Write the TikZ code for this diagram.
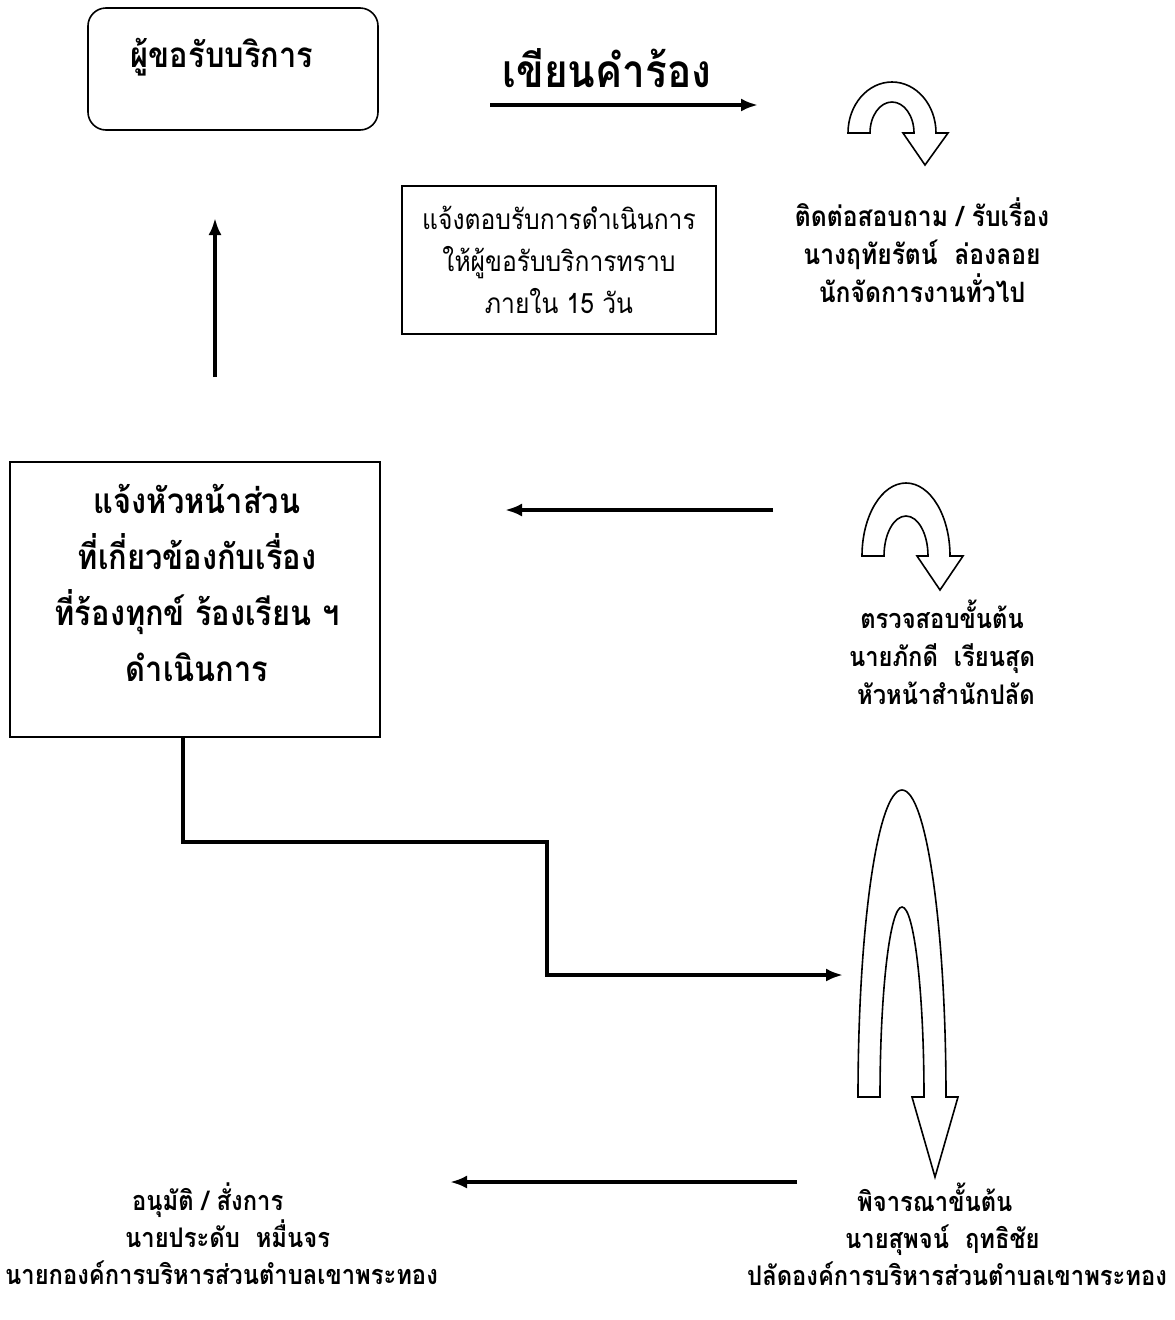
\documentclass[tikz,border=0pt]{standalone}
\usepackage{fontspec}
\newfontfamily\thaifont[Script=Thai,FakeStretch=0.88]{Loma}
\usetikzlibrary{arrows.meta,positioning}

\begin{document}
\begin{tikzpicture}[x=1pt,y=-1pt,>={Latex[length=17pt,width=13pt]},line join=miter,
	box/.style={draw,line width=1.6pt,inner sep=0pt},
	bigtext/.style={font=\thaifont\bfseries\fontsize{35}{56}\selectfont,align=center,inner sep=0pt},
	midtext/.style={font=\thaifont\bfseries\fontsize{28}{38}\selectfont,align=center,inner sep=0pt},
	lowtext/.style={font=\thaifont\bfseries\fontsize{27}{37}\selectfont,align=left,anchor=west,inner sep=0pt},
	flow/.style={->,line width=3.5pt},
	uturn/.style={draw,line width=1.6pt}]
	\useasboundingbox (0,0) rectangle (1175,1320);

	  \node[box,rounded corners=18pt,minimum width=290pt,minimum height=122pt] (client) at (233,69) {};
	  \node[bigtext]          (clienttxt) at (222,57)    {ผู้ขอรับบริการ};
	  \node[bigtext,font=\thaifont\bfseries\fontsize{46}{50}\selectfont] (write) at (607,68) {เขียนคำร้อง};
	  \node[midtext]          (receive) at (922,250)     {ติดต่อสอบถาม / รับเรื่อง\\นางฤทัยรัตน์\ \ ล่องลอย\\นักจัดการงานทั่วไป};
	  \node[box,minimum width=314pt,minimum height=148pt,align=center,
	        font=\thaifont\fontsize{28}{42}\selectfont] (notify) at (559,260) {แจ้งตอบรับการดำเนินการ\\ให้ผู้ขอรับบริการทราบ\\ภายใน 15 วัน};
	  \node[box,minimum width=370pt,minimum height=275pt] (act) at (195,599.5) {};
	  \node[bigtext]          (acttxt) at (197,583)      {แจ้งหัวหน้าส่วน\\ที่เกี่ยวข้องกับเรื่อง\\ที่ร้องทุกข์ ร้องเรียน ฯ\\ดำเนินการ};
	  \node[midtext,font=\thaifont\bfseries\fontsize{27}{38}\selectfont] (check) at (942,652)
	        {ตรวจสอบขั้นต้น\\นายภักดี\ \ เรียนสุด\\\ หัวหน้าสำนักปลัด};
	  \node[lowtext] (approve) at (5,1234)
	        {\hspace*{127pt}อนุมัติ / สั่งการ\\\hspace*{120pt}นายประดับ\ \ หมื่นจร\\นายกองค์การบริหารส่วนตำบลเขาพระทอง};
	  \node[lowtext] (consider) at (747,1234)
	        {\hspace*{110pt}พิจารณาขั้นต้น\\\hspace*{98pt}นายสุพจน์\ \ ฤทธิชัย\\ปลัดองค์การบริหารส่วนตำบลเขาพระทอง};

	  \coordinate (w0) at (490,105);
	  \coordinate (w1) at (758,105);
	  \coordinate (u0) at (215,377);
	  \coordinate (u1) at (215,218);
	  \coordinate (c0) at (773,510);
	  \coordinate (c1) at (505,510);
	  \coordinate (s1) at (183,842);
	  \coordinate (s2) at (547,975);
	  \coordinate (s3) at (843,975);
	  \coordinate (a0) at (797,1182);
	  \coordinate (a1) at (450,1182);

	  \draw[flow] (w0) -- (w1);
	  \draw[flow] (u0) -- (u1);
	  \draw[flow] (c0) -- (c1);
	  \draw[flow] (act.south -| s1) -- (s1) -| (s2) -- (s3);
	  \draw[flow] (a0) -- (a1);

	  \draw[uturn] (848,133) arc[start angle=180,end angle=0,x radius=44pt,y radius=51pt]
	        -- (948,133) -- (925,165) -- (903,133) -- (914,133)
	        arc[start angle=0,end angle=180,x radius=22pt,y radius=31pt] -- cycle;
	  \draw[uturn] (862,556) arc[start angle=180,end angle=0,x radius=44pt,y radius=73pt]
	        -- (963,556) -- (940,590) -- (917,556) -- (928,556)
	        arc[start angle=0,end angle=180,x radius=22pt,y radius=40pt] -- cycle;
	  \draw[uturn] (858,1097) arc[start angle=180,end angle=0,x radius=44pt,y radius=307pt]
	        -- (958,1097) -- (935,1177) -- (912,1097) -- (924,1097)
	        arc[start angle=0,end angle=180,x radius=22pt,y radius=190pt] -- cycle;
\end{tikzpicture}
\end{document}
